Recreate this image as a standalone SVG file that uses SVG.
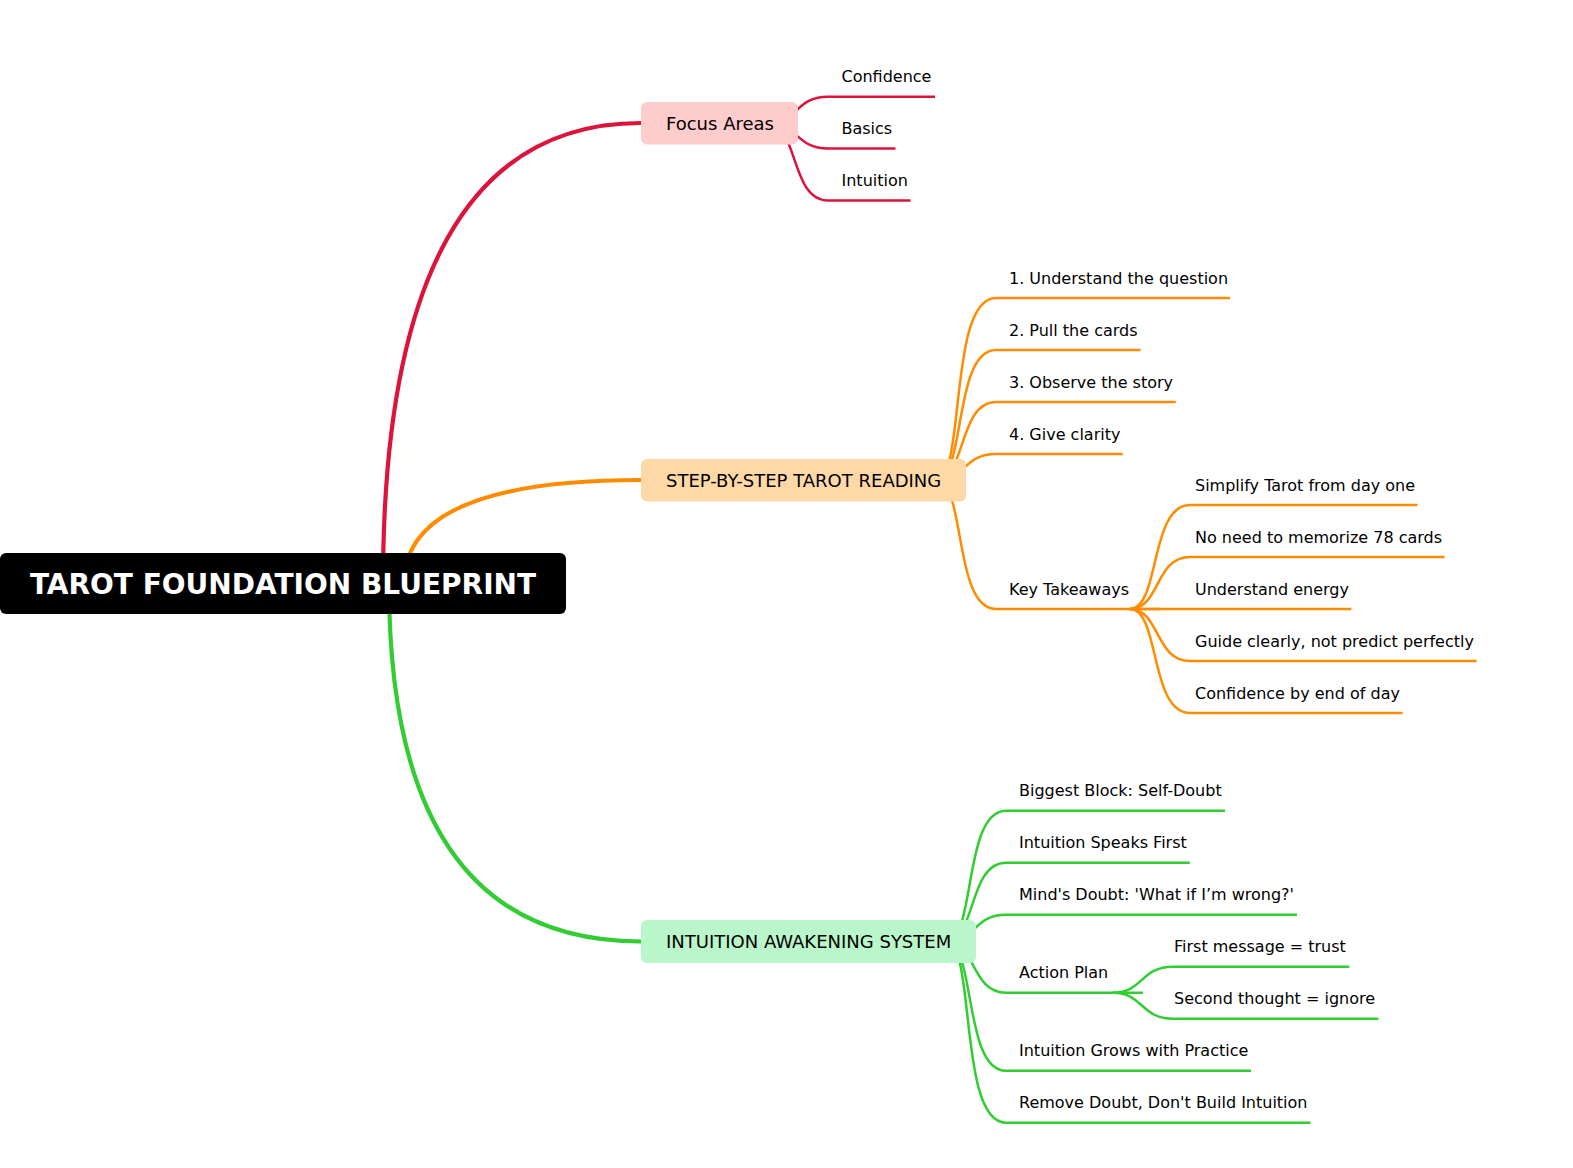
<svg xmlns="http://www.w3.org/2000/svg" width="1573" height="1168" viewBox="0 0 1573 1168">
<style>
.main{fill:none;stroke-width:4.2}
.sub{fill:none;stroke-width:2.5}
.red{stroke:#DC143C}
.org{stroke:#FF8C00}
.grn{stroke:#32CD32}
.t{font-family:"DejaVu Sans",sans-serif;font-size:16px;fill:#000}
.b{font-family:"DejaVu Sans",sans-serif;font-size:18px;fill:#000}
.r{font-family:"DejaVu Sans",sans-serif;font-size:28px;font-weight:bold;fill:#fff}
</style>
<rect width="1573" height="1168" fill="#fff"/>
<g id="connectors">
<path class="main red" d="M383,583.5 Q383,123 641,123"/>
<path class="main org" d="M404,583.5 Q404,480 641,480"/>
<path class="main grn" d="M389,583.5 Q389,941.5 641,941.5"/>
<path class="sub red" d="M768,123 C798,123 795.4,96.7 828,96.7 H935"/>
<path class="sub red" d="M768,123 C798,123 795.45,148.5 828,148.5 H895.5"/>
<path class="sub red" d="M768,123 C798,123 790.25,200.5 828,200.5 H910.5"/>
<path class="sub org" d="M936,480 C966,480 947.8,298 996,298 H1230"/>
<path class="sub org" d="M936,480 C966,480 953,350 996,350 H1140.6"/>
<path class="sub org" d="M936,480 C966,480 958.2,402 996,402 H1175.8"/>
<path class="sub org" d="M936,480 C966,480 963.4,454 996,454 H1122.8"/>
<path class="sub org" d="M936,480 C966,480 953.1,609 996,609 H1160"/>
<path class="sub org" d="M1130,609 C1160,609 1149.6,505 1190,505 H1417.5"/>
<path class="sub org" d="M1130,609 C1160,609 1154.8,557 1190,557 H1444.6"/>
<path class="sub org" d="M1130,609 H1351.3"/>
<path class="sub org" d="M1130,609 C1160,609 1154.8,661 1190,661 H1476.7"/>
<path class="sub org" d="M1130,609 C1160,609 1149.6,713 1190,713 H1402.5"/>
<path class="sub grn" d="M946,941.5 C976,941.5 962.92,810.7 1006,810.7 H1225"/>
<path class="sub grn" d="M946,941.5 C976,941.5 968.12,862.7 1006,862.7 H1189.8"/>
<path class="sub grn" d="M946,941.5 C976,941.5 973.32,914.7 1006,914.7 H1297"/>
<path class="sub grn" d="M946,941.5 C976,941.5 970.88,992.7 1006,992.7 H1143"/>
<path class="sub grn" d="M946,941.5 C976,941.5 963.08,1070.7 1006,1070.7 H1251"/>
<path class="sub grn" d="M946,941.5 C976,941.5 957.88,1122.7 1006,1122.7 H1310.5"/>
<path class="sub grn" d="M1113,992.7 C1143,992.7 1140.4,966.7 1173,966.7 H1349.3"/>
<path class="sub grn" d="M1113,992.7 C1143,992.7 1140.4,1018.7 1173,1018.7 H1378.4"/>
</g>
<g id="root">
<rect x="0" y="553" width="566" height="61" rx="6" fill="#000"/>
<text class="r" x="283" y="594" text-anchor="middle">TAROT FOUNDATION BLUEPRINT</text>
</g>
<g id="focus-areas">
<rect x="641" y="102" width="157" height="42.5" rx="6" fill="#FFCCCC"/>
<text class="b" x="666" y="129.6">Focus Areas</text>
</g>
<g id="focus-children">
<text class="t" x="841.5" y="82.2">Confidence</text>
<text class="t" x="841.5" y="134">Basics</text>
<text class="t" x="841.5" y="186">Intuition</text>
</g>
<g id="step-by-step">
<rect x="641" y="459" width="325" height="42.5" rx="6" fill="#FFD8A8"/>
<text class="b" x="666" y="486.6">STEP-BY-STEP TAROT READING</text>
</g>
<g id="step-children">
<text class="t" x="1009" y="283.5">1. Understand the question</text>
<text class="t" x="1009" y="335.5">2. Pull the cards</text>
<text class="t" x="1009" y="387.5">3. Observe the story</text>
<text class="t" x="1009" y="439.5">4. Give clarity</text>
<text class="t" x="1009" y="594.5">Key Takeaways</text>
</g>
<g id="key-takeaways-children">
<text class="t" x="1195" y="490.5">Simplify Tarot from day one</text>
<text class="t" x="1195" y="542.5">No need to memorize 78 cards</text>
<text class="t" x="1195" y="594.5">Understand energy</text>
<text class="t" x="1195" y="646.5">Guide clearly, not predict perfectly</text>
<text class="t" x="1195" y="698.5">Confidence by end of day</text>
</g>
<g id="intuition-awakening">
<rect x="641" y="920" width="335" height="43" rx="6" fill="#B9F6CA"/>
<text class="b" x="666" y="948.1">INTUITION AWAKENING SYSTEM</text>
</g>
<g id="intuition-children">
<text class="t" x="1019" y="796.2">Biggest Block: Self-Doubt</text>
<text class="t" x="1019" y="848.2">Intuition Speaks First</text>
<text class="t" x="1019" y="900.2">Mind's Doubt: 'What if I’m wrong?'</text>
<text class="t" x="1019" y="978.2">Action Plan</text>
<text class="t" x="1019" y="1056.2">Intuition Grows with Practice</text>
<text class="t" x="1019" y="1108.2">Remove Doubt, Don't Build Intuition</text>
</g>
<g id="action-plan-children">
<text class="t" x="1174" y="952.2">First message = trust</text>
<text class="t" x="1174" y="1004.2">Second thought = ignore</text>
</g>
</svg>
